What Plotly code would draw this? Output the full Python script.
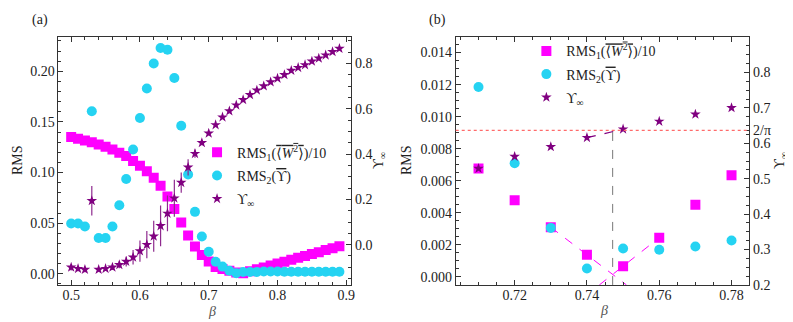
import plotly.graph_objects as go

# ---------------- data ----------------
beta = [0.50, 0.51, 0.52, 0.53, 0.54, 0.55, 0.56, 0.57, 0.58, 0.59,
        0.60, 0.61, 0.62, 0.63, 0.64, 0.65, 0.66, 0.67, 0.68, 0.69,
        0.70, 0.71, 0.72, 0.73, 0.74, 0.75, 0.76, 0.77, 0.78, 0.79,
        0.80, 0.81, 0.82, 0.83, 0.84, 0.85, 0.86, 0.87, 0.88, 0.89]

rms1 = [0.1350, 0.1334, 0.1317, 0.1300, 0.1276, 0.1254, 0.1228, 0.1196, 0.1163, 0.1115,
        0.1067, 0.1013, 0.0949, 0.0869, 0.0763, 0.0641, 0.0507, 0.0379, 0.0269, 0.0186,
        0.0122, 0.00677, 0.00478, 0.00310, 0.00138, 0.00067, 0.00245, 0.00450, 0.00634, 0.0082,
        0.0101, 0.0120, 0.0139, 0.0158, 0.0176, 0.0195, 0.0214, 0.0234, 0.0253, 0.0273]

rms2 = [0.0497, 0.0497, 0.0468, 0.1606, 0.0353, 0.0353, 0.0468, 0.0677, 0.0936, 0.1228,
        0.1538, 0.1831, 0.2077, 0.2231, 0.2212, 0.1933, 0.1462, 0.0981, 0.0612, 0.0369,
        0.0218, 0.01185, 0.0071, 0.00306, 0.00053, 0.00178, 0.00170, 0.00190, 0.00227, 0.0022,
        0.0022, 0.0021, 0.0021, 0.0021, 0.0020, 0.0020, 0.0020, 0.0020, 0.0020, 0.0020]

ups = [-0.100, -0.106, -0.110, 0.1935, -0.110, -0.106, -0.100, -0.089, -0.0745, -0.056,
       -0.0285, 0.000, 0.037, 0.083, 0.138, 0.205, 0.274, 0.3415, 0.4017, 0.450,
       0.492, 0.5287, 0.5628, 0.5903, 0.616, 0.640, 0.662, 0.682, 0.7005, 0.718,
       0.734, 0.750, 0.769, 0.7815, 0.794, 0.810, 0.823, 0.837, 0.852, 0.866]

ups_err = [0.014, 0.012, 0.012, 0.065, 0.008, 0.010, 0.012, 0.015, 0.022, 0.032,
           0.047, 0.060, 0.068, 0.090, 0.079, 0.082, 0.045, 0.036, 0.018, 0.010,
           0.008, 0.004, 0.003, 0.003, 0.003, 0.003, 0.002, 0.002, 0.002, 0.002,
           0.002, 0.002, 0.002, 0.002, 0.002, 0.002, 0.002, 0.002, 0.002, 0.002]

zoom_beta = [0.71, 0.72, 0.73, 0.74, 0.75, 0.76, 0.77, 0.78]
two_over_pi = 2 / 3.141592653589793

ticks_b_right = [0.2, 0.3, 0.4, 0.5, 0.6, 0.7, 0.8, two_over_pi]
ticks_b_right_text = ["0.2", "0.3", "0.4", "0.5", "0.6", "0.7", "0.8", "2/π"]

# ---------------- style ----------------
MAG = "#ff00ff"
CYAN = "#25d3f2"
PURP = "#800080"
FONT = "Liberation Serif, DejaVu Serif, serif"
TXT = "#222"
W, H = 793, 322

idx_b = [beta.index(b) for b in zoom_beta]
rms1_b = [rms1[i] for i in idx_b]
rms2_b = [rms2[i] for i in idx_b]
ups_b = [ups[i] for i in idx_b]

name1 = 'RMS<sub>1</sub>(<span style="text-decoration:overline">⟨<i>W</i><sup>2</sup>⟩</span>)/10'
name2 = 'RMS<sub>2</sub>(<span style="text-decoration:overline">ϒ</span>)'
name3 = 'ϒ<sub>∞</sub>'

SQ = dict(symbol="square", size=10, color=MAG)
CI = dict(symbol="circle", size=10, color=CYAN)
ST = dict(symbol="star", size=8, color=PURP)

fig = go.Figure()

# panel (a)
fig.add_trace(go.Scatter(x=beta, y=rms1, mode="markers", name=name1, legend="legend", legendgroup="a1",
                         marker=SQ, xaxis="x", yaxis="y"))
fig.add_trace(go.Scatter(x=beta, y=rms2, mode="markers", name=name2, legend="legend", legendgroup="a2",
                         marker=CI, xaxis="x", yaxis="y"))
fig.add_trace(go.Scatter(x=beta, y=ups, mode="markers", name=name3, legend="legend", legendgroup="a3",
                         error_y=dict(type="data", array=ups_err, color="#8e2a8e", thickness=1.2, width=0),
                         marker=ST, xaxis="x", yaxis="y2"))

# panel (b) helper lines computed from data
i73, i74, i75, i76 = zoom_beta.index(0.73), zoom_beta.index(0.74), zoom_beta.index(0.75), zoom_beta.index(0.76)
yb_min = -0.0005
s1 = (rms1_b[i74] - rms1_b[i73]) / (0.74 - 0.73)
s2 = (rms1_b[i76] - rms1_b[i75]) / (0.76 - 0.75)
x1_end = 0.74 + (yb_min - rms1_b[i74]) / s1
x2_end = 0.75 + (yb_min - rms1_b[i75]) / s2
xc = (rms1_b[i75] - s2 * 0.75 - rms1_b[i73] + s1 * 0.73) / (s1 - s2)
su = (ups_b[i75] - ups_b[i74]) / 0.01
yc_ups = ups_b[i74] + su * (xc - 0.74)

fig.add_trace(go.Scatter(x=[0.73, x1_end], y=[rms1_b[i73], yb_min], mode="lines", showlegend=False,
                         line=dict(color=MAG, dash="dash", width=1), xaxis="x2", yaxis="y3"))
fig.add_trace(go.Scatter(x=[x2_end, 0.76], y=[yb_min, rms1_b[i76]], mode="lines", showlegend=False,
                         line=dict(color=MAG, dash="dash", width=1), xaxis="x2", yaxis="y3"))
fig.add_trace(go.Scatter(x=[0.74, 0.75], y=[ups_b[i74], ups_b[i75]], mode="lines", showlegend=False,
                         line=dict(color=PURP, dash="dash", width=1.2), xaxis="x2", yaxis="y4"))
fig.add_trace(go.Scatter(x=[xc, xc], y=[0.2, yc_ups], mode="lines", showlegend=False,
                         line=dict(color="#777", dash="dash", width=1), xaxis="x2", yaxis="y4"))

fig.add_trace(go.Scatter(x=zoom_beta, y=rms1_b, mode="markers", name=name1, legend="legend2", legendgroup="b1",
                         marker=SQ, xaxis="x2", yaxis="y3"))
fig.add_trace(go.Scatter(x=zoom_beta, y=rms2_b, mode="markers", name=name2, legend="legend2", legendgroup="b2",
                         marker=CI, xaxis="x2", yaxis="y3"))
fig.add_trace(go.Scatter(x=zoom_beta, y=ups_b, mode="markers", name=name3, legend="legend2", legendgroup="b3",
                         marker=ST, xaxis="x2", yaxis="y4"))

fig.add_shape(type="line", xref="x2 domain", x0=0, x1=1, yref="y4", y0=two_over_pi, y1=two_over_pi,
              line=dict(color="#ff6b6b", width=1.2, dash="dot"))

# ---------------- axes ----------------
def px_x(a, b):
    return [a / W, b / W]

def px_y(top, bottom):
    return [1 - bottom / H, 1 - top / H]

tickfont = dict(family=FONT, size=14, color=TXT)
axcommon = dict(showgrid=False, zeroline=False, showline=True, linecolor="#333", linewidth=1,
                ticks="inside", ticklen=5, tickcolor="#333", tickfont=tickfont)

dom_ax = px_x(50.7, 345)
dom_bx = px_x(450, 745)
dom_y = px_y(29.3, 284)


def ann(text, x, y, angle=0, color=TXT):
    return dict(text=text, x=x / W, y=1 - y / H, xref="paper", yref="paper", showarrow=False,
                xanchor="center", yanchor="middle", textangle=angle,
                font=dict(family=FONT, size=14, color=color))


fig.update_layout(
    width=W, height=H, autosize=False,
    margin=dict(l=0, r=0, t=0, b=0),
    paper_bgcolor="white", plot_bgcolor="white",
    font=dict(family=FONT, size=14, color=TXT),
    xaxis=dict(domain=dom_ax, range=[0.4815, 0.9072], anchor="y", mirror="ticks",
               tickvals=[0.5, 0.6, 0.7, 0.8, 0.9], ticktext=["0.5", "0.6", "0.7", "0.8", "0.9"],
               minor=dict(dtick=0.02, tick0=0.5, ticks="inside", ticklen=3, tickcolor="#333"),
               ticklabelstandoff=-3, **axcommon),
    yaxis=dict(domain=dom_y, range=[-0.011, 0.2343], anchor="x", mirror=True,
               tickvals=[0, 0.05, 0.10, 0.15, 0.20], ticktext=["0.00", "0.05", "0.10", "0.15", "0.20"],
               minor=dict(dtick=0.01, tick0=0, ticks="inside", ticklen=3, tickcolor="#333"),
               **axcommon),
    yaxis2=dict(domain=dom_y, range=[-0.178, 0.919], anchor="x", overlaying="y", side="right",
                tickvals=[0.0, 0.2, 0.4, 0.6, 0.8], ticktext=["0.0", "0.2", "0.4", "0.6", "0.8"],
                minor=dict(dtick=0.05, tick0=0, ticks="inside", ticklen=3, tickcolor="#333"),
                **axcommon),
    xaxis2=dict(domain=dom_bx, range=[0.7037, 0.7849], anchor="y3", mirror="ticks",
                tickvals=[0.72, 0.74, 0.76, 0.78], ticktext=["0.72", "0.74", "0.76", "0.78"],
                minor=dict(dtick=0.005, tick0=0.70, ticks="inside", ticklen=3, tickcolor="#333"),
                ticklabelstandoff=-3, **axcommon),
    yaxis3=dict(domain=dom_y, range=[-0.0005, 0.015], anchor="x2", mirror=True,
                tickvals=[0, 0.002, 0.004, 0.006, 0.008, 0.010, 0.012, 0.014],
                ticktext=["0.000", "0.002", "0.004", "0.006", "0.008", "0.010", "0.012", "0.014"],
                minor=dict(dtick=0.0005, tick0=0, ticks="inside", ticklen=3, tickcolor="#333"),
                **axcommon),
    yaxis4=dict(domain=dom_y, range=[0.2, 0.9016], anchor="x2", overlaying="y3", side="right",
                tickvals=ticks_b_right, ticktext=ticks_b_right_text,
                minor=dict(dtick=0.025, tick0=0.2, ticks="inside", ticklen=3, tickcolor="#333"),
                **axcommon),
    legend=dict(x=190 / W, y=1 - 132 / H, xanchor="left", yanchor="top", bgcolor="rgba(0,0,0,0)",
                font=dict(family=FONT, size=14, color=TXT), itemwidth=30,
                traceorder="grouped", tracegroupgap=2),
    legend2=dict(x=521 / W, y=1 - 28 / H, xanchor="left", yanchor="top", bgcolor="rgba(0,0,0,0)",
                 font=dict(family=FONT, size=14, color=TXT), itemwidth=30,
                 traceorder="grouped", tracegroupgap=2),
    showlegend=True,
    annotations=[
        ann("(a)", 32, 12),
        ann("(b)", 432, 12),
        ann("RMS", 9, 156, -90),
        ann("RMS", 400, 156, -90),
        ann("ϒ<sub>∞</sub>", 373, 157, -90),
        ann("ϒ<sub>∞</sub>", 776, 157, -90),
        ann("<i>β</i>", 205, 311, 0, "#555"),
        ann("<i>β</i>", 599, 310, 0, "#555"),
    ],
)

fig.write_html("out.html")
